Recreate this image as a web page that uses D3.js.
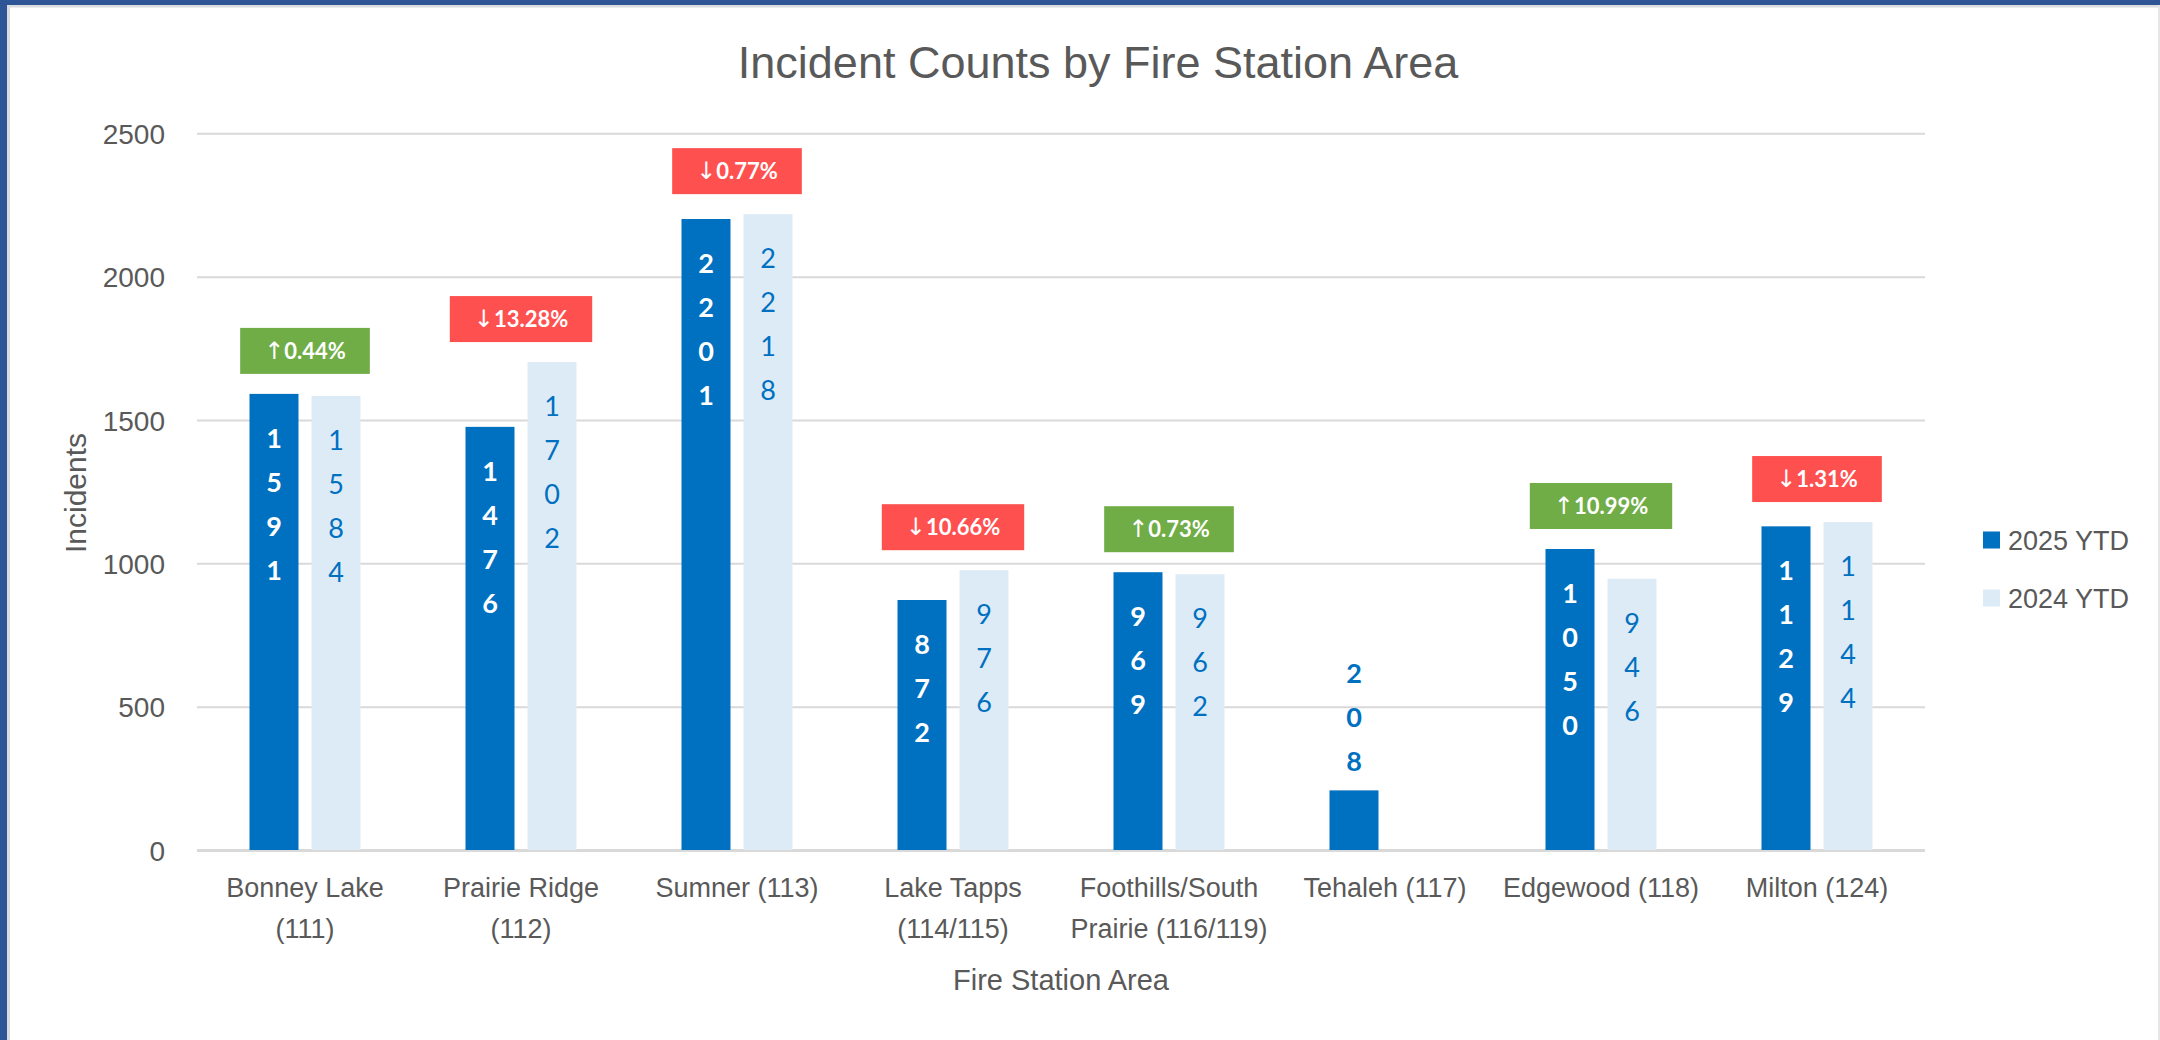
<!DOCTYPE html>
<html>
<head>
<meta charset="utf-8">
<script src="https://cdn.jsdelivr.net/npm/d3@7"></script>
<style>
  html, body { margin: 0; padding: 0; background: #ffffff; }
  svg { display: block; }
</style>
</head>
<body>
<script>
// ---- Data ----
const categories = ["Bonney Lake (111)", "Prairie Ridge (112)", "Sumner (113)", "Lake Tapps (114/115)",
  "Foothills/South Prairie (116/119)", "Tehaleh (117)", "Edgewood (118)", "Milton (124)"];
const series = ["2025 YTD", "2024 YTD"];
const values2025 = [1591, 1476, 2201, 872, 969, 208, 1050, 1129];
const values2024 = [1584, 1702, 2218, 976, 962, null, 946, 1144];
const changeLabels = ["↑0.44%", "↓13.28%", "↓0.77%", "↓10.66%", "↑0.73%", null, "↑10.99%", "↓1.31%"];
const yTicks = [0, 500, 1000, 1500, 2000, 2500];
const titleText = "Incident Counts by Fire Station Area";
const yTitle = "Incidents";
const xTitle = "Fire Station Area";

// ---- Layout ----
const W = 2160, H = 1040;
const plot = { left: 197, right: 1925, top: 133.3, bottom: 850 };
const colors = { s2025: "#0070C0", s2024: "#DDEBF7", up: "#70AD47", down: "#FF5050", text: "#595959", grid: "#D9D9D9" };
const axisFont = "'Liberation Sans', Arial, sans-serif";
const labelFont = "Lato, 'Liberation Sans', sans-serif";
const arrowFont = "'DejaVu Sans', sans-serif";

const svg = d3.select("body").append("svg").attr("width", W).attr("height", H);

// Frame
svg.append("rect").attr("x", 0).attr("y", 0).attr("width", W).attr("height", H).attr("fill", "#fff");
svg.append("rect").attr("x", 0).attr("y", 5).attr("width", W).attr("height", 2.5).attr("fill", "#DADCE0");
svg.append("rect").attr("x", 7).attr("y", 0).attr("width", 3).attr("height", H).attr("fill", "#DADCE0");
svg.append("rect").attr("x", W - 2).attr("y", 0).attr("width", 2).attr("height", H).attr("fill", "#E6E6E6");
svg.append("rect").attr("x", 0).attr("y", 0).attr("width", W).attr("height", 5).attr("fill", "#2E5596");
svg.append("rect").attr("x", 0).attr("y", 0).attr("width", 7).attr("height", H).attr("fill", "#2E5596");

// Scales
const x0 = d3.scaleBand().domain(categories).range([plot.left, plot.right]).paddingInner(0).paddingOuter(0);
const half = 55.5;
const x1 = d3.scaleBand().domain(series)
  .range([x0.bandwidth() / 2 - half, x0.bandwidth() / 2 + half]).paddingInner(0.21).paddingOuter(0);
const y = d3.scaleLinear().domain([0, 2500]).range([plot.bottom, plot.top]);

// Gridlines + y tick labels via axis
const yAxis = d3.axisLeft(y).tickValues(yTicks).tickSize(-(plot.right - plot.left)).tickPadding(32).tickFormat(d3.format("d"));
const gy = svg.append("g").attr("transform", `translate(${plot.left},0)`).call(yAxis);
gy.select(".domain").remove();
gy.selectAll(".tick line").attr("stroke", colors.grid)
  .attr("stroke-width", d => d === 0 ? 3 : 2);
gy.selectAll(".tick text").attr("fill", colors.text).attr("font-family", axisFont).attr("font-size", 28)
  .attr("dy", "0.36em");

// Bars
const rows = categories.map((c, i) => ({ cat: c, i, vals: [
  { s: series[0], v: values2025[i] }, { s: series[1], v: values2024[i] }] }));

const groups = svg.append("g").selectAll("g").data(rows).join("g")
  .attr("transform", d => `translate(${x0(d.cat)},0)`);

groups.selectAll("rect").data(d => d.vals.filter(e => e.v != null)).join("rect")
  .attr("x", d => x1(d.s)).attr("width", x1.bandwidth())
  .attr("y", d => y(d.v)).attr("height", d => y(0) - y(d.v))
  .attr("fill", d => d.s === series[0] ? colors.s2025 : colors.s2024);

// Stacked digit labels
const lineStep = 44;
groups.each(function (d) {
  const g = d3.select(this);
  d.vals.forEach(e => {
    if (e.v == null) return;
    const digits = String(e.v).split("");
    const barH = y(0) - y(e.v);
    const inside = barH >= digits.length * lineStep + 12;
    const cx = x1(e.s) + x1.bandwidth() / 2;
    const is25 = e.s === series[0];
    digits.forEach((ch, k) => {
      let cy;
      if (inside) cy = y(e.v) + lineStep * (k + 1);
      else cy = y(e.v) - 29 - lineStep * (digits.length - 1 - k);
      g.append("text").attr("x", cx).attr("y", cy).attr("dy", "0.36em")
        .attr("text-anchor", "middle").attr("font-family", labelFont).attr("font-size", 27)
        .attr("font-weight", is25 ? 700 : 400)
        .attr("fill", is25 ? (inside ? "#ffffff" : colors.s2025) : colors.s2025)
        .text(ch);
    });
  });
});

// Change badges
groups.each(function (d) {
  const lab = changeLabels[d.i];
  if (!lab) return;
  const g = d3.select(this);
  const maxV = d3.max(d.vals, e => e.v);
  const cy = y(maxV) - 43;
  const cx = x0.bandwidth() / 2;
  const up = values2025[d.i] >= values2024[d.i];
  const t = g.append("text").attr("x", cx).attr("y", cy).attr("dy", "0.36em")
    .attr("text-anchor", "middle").attr("font-family", labelFont).attr("font-size", 22)
    .attr("font-weight", 700).attr("fill", "#ffffff");
  t.append("tspan").attr("font-family", arrowFont).attr("font-weight", 400).attr("font-size", 24).text(lab.charAt(0));
  t.append("tspan").text(lab.slice(1));
  const tw = t.node().getComputedTextLength();
  const bw = tw + 48, bh = 46;
  g.insert("rect", "text").attr("x", cx - bw / 2).attr("y", cy - bh / 2)
    .attr("width", bw).attr("height", bh).attr("fill", up ? colors.up : colors.down);
  t.raise();
});

// X category labels (wrapped)
function wrapLines(str, maxW, font, size) {
  const tmp = svg.append("text").attr("font-family", font).attr("font-size", size);
  const words = str.split(" ");
  const lines = [];
  let cur = "";
  words.forEach(w => {
    const test = cur ? cur + " " + w : w;
    tmp.text(test);
    if (tmp.node().getComputedTextLength() > maxW && cur) { lines.push(cur); cur = w; }
    else cur = test;
  });
  if (cur) lines.push(cur);
  tmp.remove();
  return lines;
}
const gx = svg.append("g");
categories.forEach(c => {
  const lines = wrapLines(c, 210, axisFont, 27);
  const t = gx.append("text").attr("text-anchor", "middle").attr("font-family", axisFont)
    .attr("font-size", 27).attr("fill", colors.text);
  lines.forEach((ln, k) => {
    t.append("tspan").attr("x", x0(c) + x0.bandwidth() / 2).attr("y", 897 + k * 41).text(ln);
  });
});

// Titles
svg.append("text").attr("x", 1098).attr("y", 78).attr("text-anchor", "middle")
  .attr("font-family", axisFont).attr("font-size", 45).attr("fill", colors.text).text(titleText);
svg.append("text").attr("transform", `translate(86,493) rotate(-90)`).attr("text-anchor", "middle")
  .attr("font-family", axisFont).attr("font-size", 30).attr("fill", colors.text).text(yTitle);
svg.append("text").attr("x", (plot.left + plot.right) / 2).attr("y", 990).attr("text-anchor", "middle")
  .attr("font-family", axisFont).attr("font-size", 29).attr("fill", colors.text).text(xTitle);

// Legend
const legend = svg.append("g").selectAll("g").data(series).join("g")
  .attr("transform", (d, i) => `translate(1983,${540 + i * 58})`);
legend.append("rect").attr("x", 0).attr("y", -8.5).attr("width", 17).attr("height", 17)
  .attr("fill", (d, i) => i === 0 ? colors.s2025 : colors.s2024);
legend.append("text").attr("x", 25).attr("y", 0).attr("dy", "0.36em")
  .attr("font-family", axisFont).attr("font-size", 27).attr("fill", colors.text).text(d => d);
</script>
</body>
</html>
